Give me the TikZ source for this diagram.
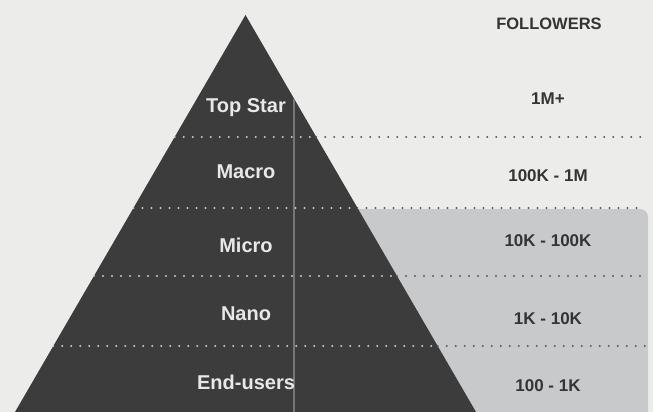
\documentclass[tikz,border=0pt]{standalone}
\usepackage{fontspec}
\setmainfont{Liberation Sans}
\usetikzlibrary{calc}

\definecolor{pagebg}{RGB}{236,236,235}
\definecolor{pyrgray}{RGB}{60,60,60}
\definecolor{boxgray}{RGB}{200,201,203}
\definecolor{inktext}{RGB}{52,52,52}
\definecolor{lighttext}{RGB}{232,232,232}
\definecolor{rulegray}{RGB}{118,118,118}

\begin{document}
\begin{tikzpicture}[x=1pt, y=-1pt, line join=round, line cap=round,
    tier/.style={anchor=base, text=lighttext, font=\fontsize{20}{24}\selectfont\bfseries},
    count/.style={anchor=base, text=inktext, font=\fontsize{17}{20}\selectfont\bfseries},
    dotsin/.style={draw=lighttext!80!pyrgray, line width=2.3pt, dash pattern=on 0pt off 9pt},
    dotsout/.style={draw=inktext!80, line width=2.3pt, dash pattern=on 0pt off 9pt},
    divider/.style={draw=rulegray, line width=1.2pt, line cap=butt}]
  % page
  \clip (0,0) rectangle (653,412);
  \fill[pagebg] (0,0) rectangle (653,412);
  % shaded band behind the lower tiers
  \fill[boxgray, rounded corners=8pt] (330,209) rectangle (648,440);
  % pyramid
  \coordinate (A) at (245.5,15);
  \coordinate (L) at (15,412);
  \coordinate (R) at (476,412);
  \fill[pyrgray] (A) -- (L) -- (R) -- cycle;
  % divider inside the pyramid
  \coordinate (vtop) at ($(A)!0.2104!(R)$);
  \coordinate (vbot) at (vtop |- R);
  \draw[divider] (vtop) -- (vbot);
  % tier separators
  \foreach \y in {137,208,276,346} {
    \coordinate (l\y) at ($(A)!{(\y-15)/397}!(L)$);
    \coordinate (r\y) at ($(A)!{(\y-15)/397}!(R)$);
    \coordinate (e\y) at (645,\y);
    \draw[dotsin] (l\y) -- (r\y);
    \draw[dotsout] (r\y) -- (e\y);
  }
  % tier names
  \node[tier] (top) at (246,112) {Top Star};
  \node[tier] (macro) at (246,178) {Macro};
  \node[tier] (micro) at (246,252) {Micro};
  \node[tier] (nano) at (246,320) {Nano};
  \node[tier] (end) at (246,389) {End-users};
  % follower counts
  \node[count, font=\fontsize{16.5}{20}\selectfont\bfseries] (head) at (549,30) {FOLLOWERS};
  \node[count] (ctop) at (548,104) {1M+};
  \node[count] (cmacro) at (548,181) {100K - 1M};
  \node[count] (cmicro) at (548,246) {10K - 100K};
  \node[count] (cnano) at (548,324) {1K - 10K};
  \node[count] (cend) at (548,391) {100 - 1K};
\end{tikzpicture}
\end{document}
